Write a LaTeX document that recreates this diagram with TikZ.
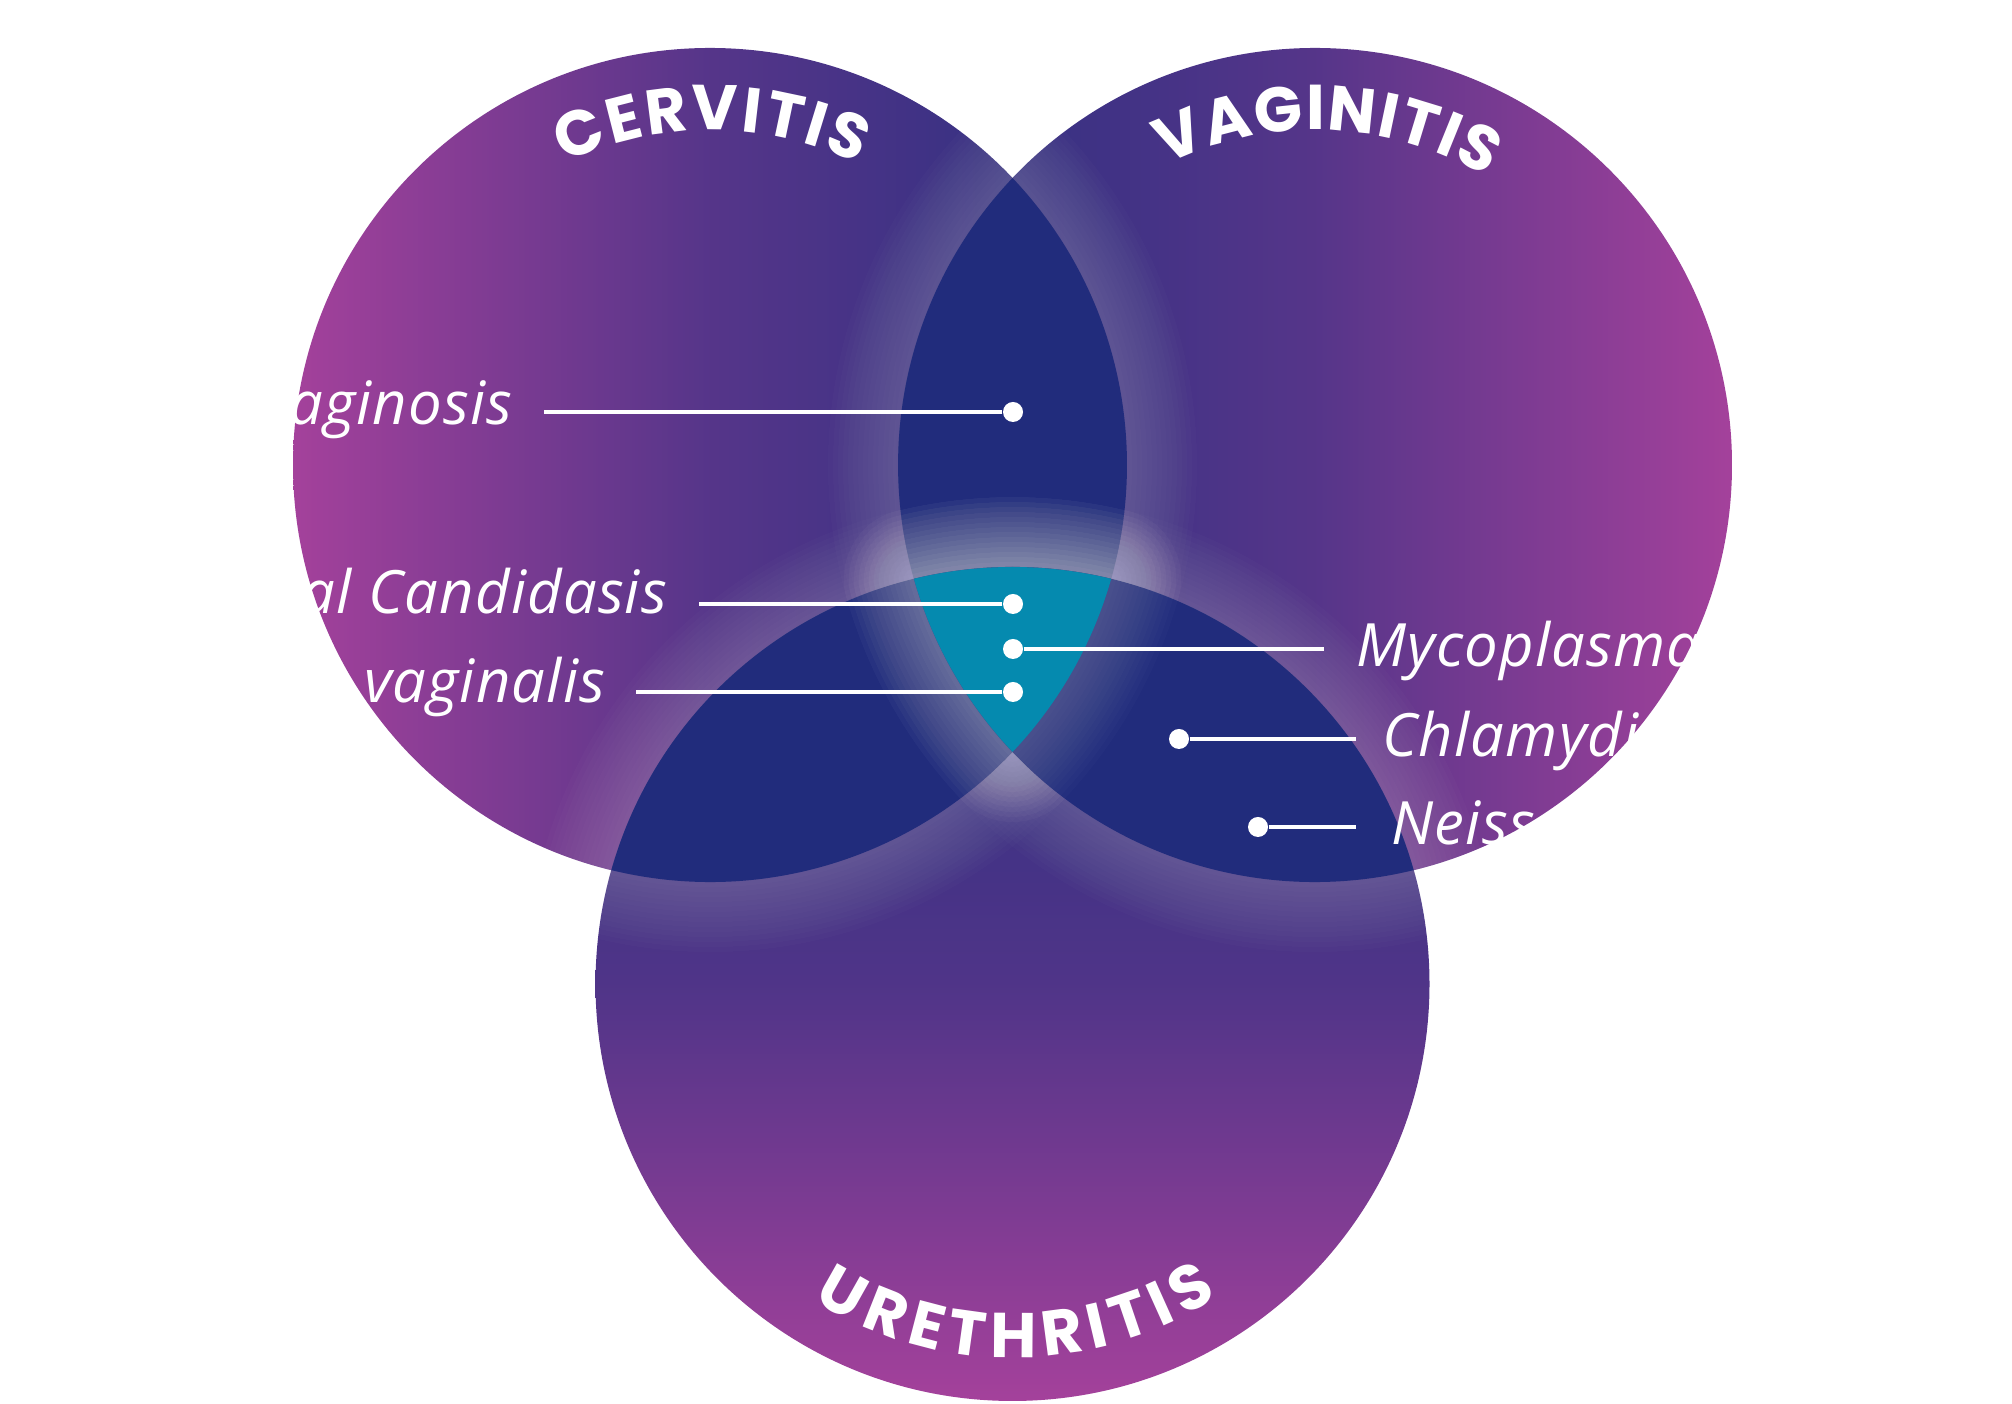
\documentclass[tikz,border=0pt]{standalone}
\usepackage{fontspec}
\setmainfont{Open Sans}
\newfontfamily\tagfont{Open Sans}[LetterSpace=2]
\newfontfamily\headfont{Poppins}
\usetikzlibrary{decorations.text}
\definecolor{Magenta}{HTML}{A4419B}
\definecolor{Navy}{HTML}{2B2F80}
\definecolor{Lens}{HTML}{212C7C}
\definecolor{Core}{HTML}{058AAF}

\begin{document}
\begin{tikzpicture}[line join=round]
  \tikzset{
    lead/.style={white,line width=1.05pt},
    dot/.style={circle,fill=white,inner sep=0pt,minimum size=0.2cm},
    tag/.style={text=white,inner sep=0pt,font=\tagfont\itshape\fontsize{17pt}{18pt}\selectfont},
    glow/.style={white,opacity=0.015,line width=#1},
    title/.style args={#1/#2}{decorate,decoration={text along path,text align=center,
      text={|\color{white}\headfont\bfseries\fontsize{18pt}{19pt}\selectfont\kern#2|#1}}},
    lensLR/.style={insert path={([shift={(-43.49:4.17)}]L)
      arc[start angle=-43.49,end angle=43.49,radius=4.17]
      arc[start angle=136.51,end angle=223.51,radius=4.17] -- cycle}},
    lensLB/.style={insert path={([shift={(-103.69:4.17)}]L)
      arc[start angle=-103.69,end angle=-15.85,radius=4.17]
      arc[start angle=76.31,end angle=164.15,radius=4.17] -- cycle}},
    lensRB/.style={insert path={([shift={(195.85:4.17)}]R)
      arc[start angle=195.85,end angle=283.69,radius=4.17]
      arc[start angle=15.85,end angle=103.69,radius=4.17] -- cycle}},
    core/.style={insert path={([shift={(103.69:4.17)}]B)
      arc[start angle=103.69,end angle=76.31,radius=4.17]
      arc[start angle=-15.85,end angle=-43.49,radius=4.17]
      arc[start angle=223.51,end angle=195.85,radius=4.17] -- cycle}}
  }
  \useasboundingbox (0,0) rectangle (20.12,14.04);
  \fill[white] (0,0) rectangle (20.12,14.04);

  \coordinate (L) at (7.10,9.39);
  \coordinate (R) at (13.15,9.39);
  \coordinate (B) at (10.125,4.20);

  \shade[left color=Magenta,right color=Navy,middle color=Magenta!35!Navy] (L) circle (4.17);
  \shade[left color=Navy,right color=Magenta,middle color=Magenta!35!Navy] (R) circle (4.17);
  \shade[top color=Navy,bottom color=Magenta,middle color=Magenta!30!Navy] (B) circle (4.17);

  \foreach \w in {0.1,0.2,...,1.4} \draw[glow=\w cm,lensLR];
  \fill[Lens,lensLR];
  \foreach \w in {0.1,0.2,...,1.4} \draw[glow=\w cm,lensLB];
  \fill[Lens,lensLB];
  \foreach \w in {0.1,0.2,...,1.4} \draw[glow=\w cm,lensRB];
  \fill[Lens,lensRB];
  \foreach \w in {0.1,0.2,...,1.4} \draw[glow=\w cm,core];
  \fill[Core,core];

  \path[title=CERVITIS/0.8pt] ([shift={(125:3.35)}]L) arc[start angle=125,end angle=55,radius=3.35];
  \path[title=VAGINITIS/0.5pt] ([shift={(122:3.35)}]R) arc[start angle=122,end angle=54,radius=3.35];
  \path[title=URETHRITIS/2.2pt] ([shift={(236:3.74)}]B) arc[start angle=236,end angle=304,radius=3.74];

  \node[dot] (bvDot) at (10.13,9.92) {};
  \coordinate (bvEnd) at (5.44,9.92);
  \draw[lead] (bvDot) -- (bvEnd);
  \node[tag,anchor=base east] (bvTag) at (5.13,9.79) {Bacterial Vaginosis};

  \node[dot] (vcDot) at (10.13,8.00) {};
  \coordinate (vcEnd) at (6.99,8.00);
  \draw[lead] (vcDot) -- (vcEnd);
  \node[tag,anchor=base east] (vcTag) at (6.68,7.90) {Vulvovaginal Candidasis};

  \node[dot] (tvDot) at (10.13,7.12) {};
  \coordinate (tvEnd) at (6.36,7.12);
  \draw[lead] (tvDot) -- (tvEnd);
  \node[tag,anchor=base east] (tvTag) at (6.06,7.01) {Trichomonas vaginalis};

  \node[dot] (mgDot) at (10.13,7.55) {};
  \coordinate (mgEnd) at (13.24,7.55);
  \draw[lead] (mgDot) -- (mgEnd);
  \node[tag,anchor=base west] (mgTag) at (13.56,7.37) {Mycoplasma genitalium};

  \node[dot] (ctDot) at (11.79,6.65) {};
  \coordinate (ctEnd) at (13.56,6.65);
  \draw[lead] (ctDot) -- (ctEnd);
  \node[tag,anchor=base west] (ctTag) at (13.82,6.47) {Chlamydia trachomatis};

  \node[dot] (ngDot) at (12.58,5.77) {};
  \coordinate (ngEnd) at (13.56,5.77);
  \draw[lead] (ngDot) -- (ngEnd);
  \node[tag,anchor=base west] (ngTag) at (13.91,5.59) {Neisseria gonorrhoeae};
\end{tikzpicture}
\end{document}
